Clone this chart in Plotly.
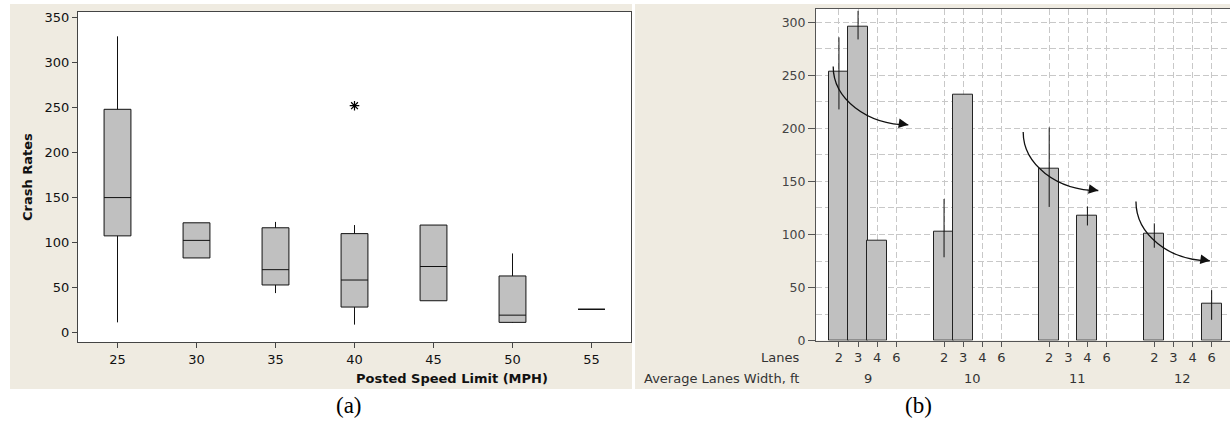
import plotly.graph_objects as go

# ---------------- Data: panel (a) box plot ----------------
speed_limits = ["25", "30", "35", "40", "45", "50", "55"]
box_min = [11.5, 83, 44, 9, 35.5, 11, 26]
box_q1 = [107.5, 83, 53, 28.5, 35.5, 11.5, 26]
box_median = [150, 102.5, 70, 58.5, 73.5, 19.5, 26]
box_q3 = [248, 122, 116.5, 110, 119.5, 63, 26]
box_max = [329, 122, 123, 119.5, 119.5, 88, 26]
outlier_x = ["40"]
outlier_y = [252]

# ---------------- Data: panel (b) bar chart ----------------
lane_widths = ["9", "10", "11", "12"]
lane_counts = ["2", "3", "4", "6"]
rate_w9 = [254, 296, 94, None]
rate_w10 = [102.5, 231.5, None, None]
rate_w11 = [162, None, 118, None]
rate_w12 = [101, None, None, 34.5]
err_plus_w9 = [32, 15, None, None]
err_plus_w10 = [31, None, None, None]
err_plus_w11 = [39, None, 8.5, None]
err_plus_w12 = [9.5, None, None, 13]
err_minus_w9 = [36, 12, None, None]
err_minus_w10 = [24, None, None, None]
err_minus_w11 = [36, None, 9.5, None]
err_minus_w12 = [13.5, None, None, 15]

W, H = 1230, 424
BEIGE = "#EFEBE1"
GRAY = "#C0C0C0"

# slot positions for the grouped bar axis
GROUP_STEP = 5.5
pos = []
tick_text = []
rates, eplus, eminus = [], [], []
for g, (r, ep, em) in enumerate(zip([rate_w9, rate_w10, rate_w11, rate_w12],
                                     [err_plus_w9, err_plus_w10, err_plus_w11, err_plus_w12],
                                     [err_minus_w9, err_minus_w10, err_minus_w11, err_minus_w12])):
    for i, lab in enumerate(lane_counts):
        pos.append(g * GROUP_STEP + i)
        tick_text.append(lab)
        rates.append(r[i])
        eplus.append(ep[i])
        eminus.append(em[i])

fig = go.Figure()

# Panel (a)
fig.add_trace(go.Box(
    x=speed_limits, q1=box_q1, median=box_median, q3=box_q3,
    lowerfence=box_min, upperfence=box_max,
    fillcolor=GRAY, line=dict(color="#111111", width=1),
    whiskerwidth=0, width=0.34, boxpoints=False,
    xaxis="x", yaxis="y", showlegend=False, hoverinfo="skip",
))
fig.add_trace(go.Scatter(
    x=outlier_x, y=outlier_y, mode="markers",
    marker=dict(symbol="asterisk-open", size=8, color="black",
                line=dict(color="black", width=1.2)),
    xaxis="x", yaxis="y", showlegend=False,
))

# Panel (b)
fig.add_trace(go.Bar(
    x=pos, y=rates, width=1.05,
    marker=dict(color=GRAY, line=dict(color="#222222", width=1)),
    error_y=dict(type="data", array=eplus, arrayminus=eminus, symmetric=False,
                 width=0, thickness=1, color="#111111"),
    xaxis="x2", yaxis="y2", showlegend=False,
))

# curved arrows (data coordinates of panel b)
arrows = [(-0.30, 258.5, 3.63, 203.5), (9.64, 196.6, 13.57, 141.5), (15.54, 131.1, 19.41, 75.2)]
k = 0.5523
shapes = []
annotations = []
for x0, y0, x1, y1 in arrows:
    path = (f"M {x0},{y0} C {x0},{y0 - k*(y0-y1)} {x1 - k*(x1-x0)},{y1} {x1},{y1}")
    shapes.append(dict(type="path", path=path, xref="x2", yref="y2",
                       line=dict(color="#111111", width=1.3)))
    annotations.append(dict(x=x1, y=y1, xref="x2", yref="y2", text="",
                            showarrow=True, arrowhead=2, arrowsize=1.6,
                            arrowwidth=1.2, arrowcolor="#111111", ax=-10, ay=-1.5))

# white strips outside the beige panels
def px_rect(x0, y0, x1, y1):
    return dict(type="rect", xref="paper", yref="paper",
                x0=x0 / W, x1=x1 / W, y0=1 - y1 / H, y1=1 - y0 / H,
                fillcolor="white", line=dict(width=0), layer="below")

shapes += [px_rect(0, 0, W, 4), px_rect(0, 0, 10, H), px_rect(0, 389, W, H),
           px_rect(632, 0, 635, 389)]

font_main = "DejaVu Sans"

# group labels & row labels for panel (b)
for g, lab in enumerate(lane_widths):
    annotations.append(dict(x=g * GROUP_STEP + 1.5, y=1 - 378 / H, xref="x2", yref="paper",
                            text=lab, showarrow=False, yanchor="middle",
                            font=dict(family=font_main, size=13, color="#333333")))
annotations.append(dict(x=801 / W, y=1 - 357 / H, xref="paper", yref="paper", text="Lanes",
                        showarrow=False, xanchor="right", yanchor="middle",
                        font=dict(family=font_main, size=13, color="#333333")))
annotations.append(dict(x=801 / W, y=1 - 378 / H, xref="paper", yref="paper",
                        text="Average Lanes Width, ft", showarrow=False,
                        xanchor="right", yanchor="middle",
                        font=dict(family=font_main, size=13, color="#333333")))
# axis titles panel (a)
annotations.append(dict(x=354 / W, y=1 - 378 / H, xref="paper", yref="paper",
                        text="<b>Posted Speed Limit (MPH)</b>", showarrow=False,
                        yanchor="middle", font=dict(family=font_main, size=13, color="#111111")))
annotations.append(dict(x=27 / W, y=1 - 177 / H, xref="paper", yref="paper",
                        text="<b>Crash Rates</b>", showarrow=False, textangle=-90,
                        xanchor="center", yanchor="middle",
                        font=dict(family=font_main, size=13, color="#111111")))
# captions
annotations.append(dict(x=334 / W, y=1 - 405 / H, xref="paper", yref="paper", text="(a)",
                        showarrow=False, yanchor="middle",
                        font=dict(family="Liberation Serif", size=23, color="black")))
annotations.append(dict(x=934 / W, y=1 - 405 / H, xref="paper", yref="paper", text="(b)",
                        showarrow=False, yanchor="middle",
                        font=dict(family="Liberation Serif", size=23, color="black")))

fig.update_layout(
    width=W, height=H, autosize=False, margin=dict(l=0, r=0, t=0, b=0, pad=0),
    paper_bgcolor=BEIGE, plot_bgcolor="white",
    font=dict(family=font_main, size=13, color="#111111"),
    xaxis=dict(domain=[78 / W, 631 / W], type="category", range=[-0.5, 6.5],
               showline=True, linecolor="#444444", linewidth=1, mirror=True,
               ticks="outside", ticklen=5, tickcolor="#444444", automargin=False,
               showgrid=False, zeroline=False, anchor="y",
               tickfont=dict(family=font_main, size=13, color="#111111")),
    yaxis=dict(domain=[1 - 342 / H, 1 - 12 / H], range=[-10.3, 356],
               tickvals=[0, 50, 100, 150, 200, 250, 300, 350],
               showline=True, linecolor="#444444", linewidth=1, mirror=True,
               ticks="outside", ticklen=5, tickcolor="#444444", automargin=False,
               showgrid=False, zeroline=False, anchor="x",
               tickfont=dict(family=font_main, size=13, color="#111111")),
    xaxis2=dict(domain=[816 / W, 1.0], range=[-1.2, 20.46],
                tickvals=pos, ticktext=tick_text, automargin=False,
                showline=True, linecolor="#555555", linewidth=1, mirror=True,
                ticks="outside", ticklen=5, tickcolor="#555555",
                showgrid=True, gridcolor="#C8C8C8", gridwidth=1, griddash="6px,3px",
                zeroline=False, anchor="y2",
                tickfont=dict(family=font_main, size=13, color="#333333")),
    yaxis2=dict(domain=[1 - 340.5 / H, 1 - 8.7 / H], range=[0, 313],
                tickvals=[0, 50, 100, 150, 200, 250, 300], automargin=False,
                showline=True, linecolor="#555555", linewidth=1, mirror=False,
                ticks="outside", ticklen=7, tickcolor="#555555",
                showgrid=True, gridcolor="#C8C8C8", gridwidth=1, griddash="6px,3px",
                minor=dict(dtick=25, showgrid=True, gridcolor="#C8C8C8",
                           griddash="6px,3px", ticks=""),
                zeroline=False, anchor="x2",
                tickfont=dict(family=font_main, size=12.5, color="#444444")),
    shapes=shapes, annotations=annotations, bargap=0, showlegend=False,
)

fig.write_html(
    "out.html",
    config={"displayModeBar": False},
    post_script=("document.body.style.margin='0';"
                 "document.body.style.overflow='hidden';"
                 "document.documentElement.style.overflow='hidden';"),
)
